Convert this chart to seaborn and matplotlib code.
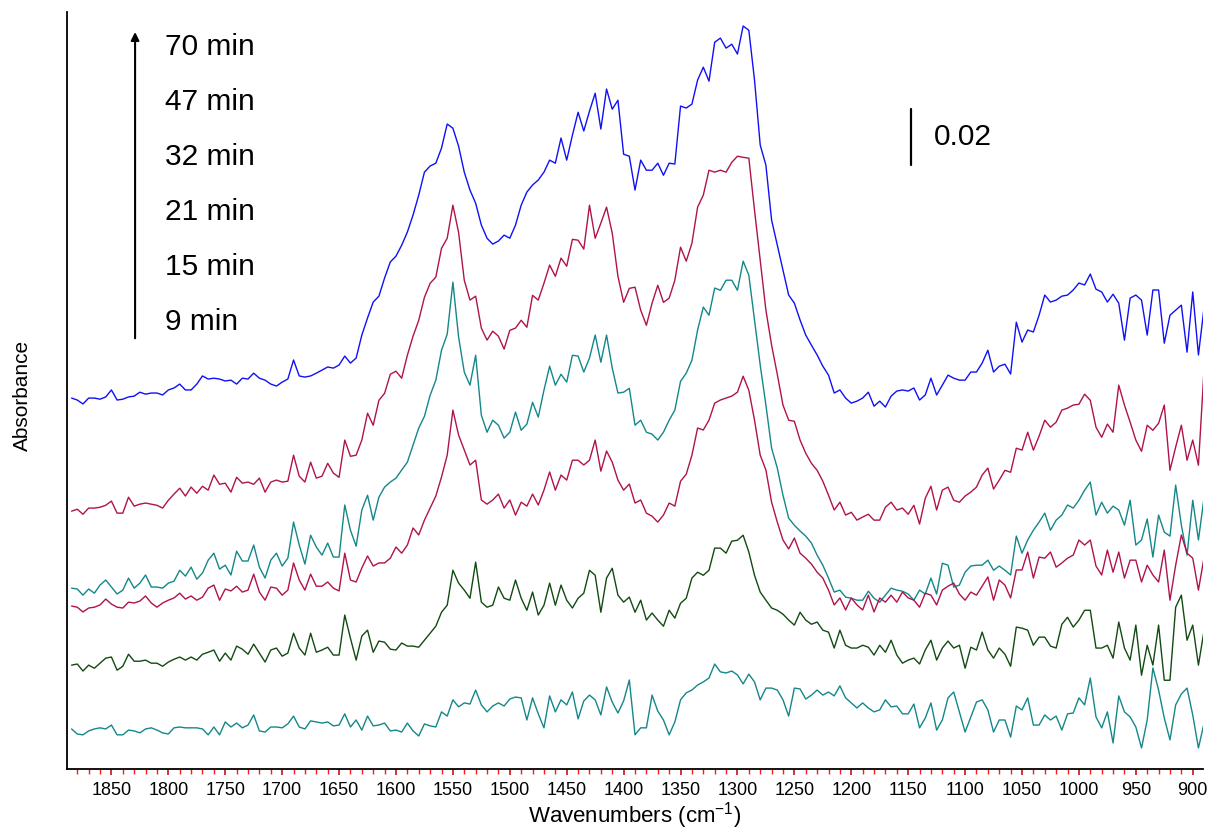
#!/usr/bin/env python3
# -*- coding: utf-8 -*-
"""
FTIR spectra over time, offset stack (seaborn lineplot)
"""

import seaborn as sns
import matplotlib.pyplot as plt
import numpy as np
import pandas as pd

# wavenumber grid, cm-1 (every 5 cm-1, high -> low)
wavenumbers = np.arange(1885, 889, -5)

# absorbance of each spectrum in mAbs, relative to its own start value
a70 = [0, -0.7, -2.1, 0, 0, -0.4, 0.4, 2.9, -0.7, -0.4,
       0.4, 0.7, 2.1, 1.4, 1.8, 1.8, 1.1, 2.9, 3.6, 5.0,
       2.9, 2.9, 5.0, 7.9, 6.8, 7.1, 6.8, 6.1, 6.4, 5.0,
       7.1, 6.8, 8.9, 7.1, 6.4, 5.0, 4.3, 5.7, 6.8, 13.6,
       7.9, 7.5, 7.9, 8.9, 10.0, 11.1, 10.7, 11.8, 15.0, 12.5,
       14.3, 22.5, 28.6, 34.3, 36.4, 42.9, 48.6, 50.7, 54.6, 59.3,
       65.4, 72.5, 80.7, 82.9, 83.9, 89.3, 97.9, 96.4, 90.0, 80.7,
       74.3, 69.6, 61.8, 57.1, 55.0, 56.1, 58.2, 57.1, 61.8, 68.9,
       73.6, 76.1, 77.9, 80.7, 85.0, 83.9, 92.9, 85.0, 93.9, 102.1,
       95.4, 102.5, 108.9, 96.1, 110.4, 103.2, 106.4, 87.1, 86.4, 74.3,
       85.0, 81.4, 81.4, 83.9, 79.6, 83.9, 83.6, 104.3, 103.6, 105.0,
       113.6, 118.2, 113.2, 127.1, 128.6, 125.0, 126.4, 122.9, 132.9, 131.4,
       113.6, 90.4, 83.2, 63.6, 54.6, 45.7, 36.8, 33.9, 27.9, 22.5,
       18.9, 15.4, 11.4, 8.2, 1.8, 2.9, 0, -1.8, -1.1, 0,
       2.1, -2.9, -1.1, -3.2, 0.7, 2.5, 2.9, 2.5, 3.6, -0.7,
       1.1, 7.1, 1.1, 4.6, 8.2, 7.1, 6.4, 6.4, 9.3, 9.3,
       12.5, 17.1, 9.3, 11.4, 12.1, 8.6, 27.1, 20.0, 24.3, 23.6,
       29.6, 36.8, 34.3, 35.0, 36.4, 36.8, 38.6, 41.1, 40.4, 44.3,
       38.9, 37.9, 34.3, 37.1, 33.9, 20.7, 35.7, 36.8, 35.0, 22.5,
       38.6, 38.6, 19.6, 29.6, 31.4, 33.2, 16.4, 37.9, 15.4, 32.5]

a47 = [0, 0.7, -1.1, 1.1, 1.1, 1.4, 2.1, 3.6, -0.7, -0.7,
       5.0, 1.8, 2.5, 2.9, 2.5, 2.1, 1.1, 3.9, 6.1, 8.2,
       5.4, 8.6, 6.4, 8.9, 7.5, 12.9, 9.6, 10.0, 6.8, 12.1,
       10.0, 10.4, 9.6, 11.8, 6.8, 10.4, 11.1, 10.4, 10.7, 20.0,
       12.5, 10.4, 17.5, 11.8, 12.5, 17.1, 13.6, 12.1, 25.4, 19.6,
       20.0, 25.4, 35.0, 30.7, 39.6, 42.1, 48.9, 50.0, 47.5, 55.7,
       62.5, 68.2, 76.4, 81.4, 83.6, 93.9, 97.5, 109.3, 99.6, 82.5,
       75.4, 76.8, 65.4, 61.1, 64.3, 62.5, 57.9, 64.6, 65.4, 68.2,
       65.7, 77.1, 75.4, 81.4, 87.9, 83.9, 90.4, 87.5, 97.1, 96.8,
       93.6, 109.3, 97.5, 102.9, 108.6, 99.3, 83.9, 74.6, 79.6, 80.0,
       71.8, 66.4, 74.3, 80.7, 74.6, 76.1, 82.5, 94.3, 89.3, 95.7,
       108.6, 112.9, 121.8, 121.1, 121.8, 121.1, 124.6, 126.8, 126.4, 126.1,
       107.5, 89.6, 71.8, 59.3, 48.9, 37.9, 32.5, 32.1, 25.4, 20.7,
       17.1, 14.6, 10.7, 5.7, 0.4, 3.2, -1.4, -0.4, -3.2, -2.1,
       -1.1, -3.2, -3.2, 1.4, 3.2, 0.4, 1.1, -1.1, 2.1, -4.6,
       4.6, 8.9, 0.4, 7.5, 8.6, 3.9, 3.2, 5.4, 6.8, 8.6,
       12.9, 15.4, 7.9, 11.1, 14.6, 13.9, 22.5, 21.8, 28.2, 21.8,
       26.8, 32.5, 30.0, 31.8, 36.1, 36.8, 37.9, 38.2, 41.8, 39.6,
       30.0, 26.4, 31.1, 28.2, 45.0, 37.9, 31.8, 25.4, 21.4, 30.7,
       28.9, 31.4, 37.9, 14.6, 22.9, 30.7, 18.2, 25.4, 16.4, 51.1]

a32 = [0.7, 0.4, -1.8, 0.4, -1.1, 1.8, 3.6, 1.1, -1.4, 0,
       4.3, 0.7, 2.5, 5.4, 1.1, 1.1, 0.7, 2.5, 3.2, 7.1,
       5.0, 8.2, 3.9, 6.1, 10.7, 13.2, 7.5, 8.9, 5.4, 13.9,
       10.4, 10.4, 16.1, 8.2, 4.3, 10.7, 13.2, 8.6, 11.4, 24.3,
       16.1, 9.3, 19.6, 15.4, 12.5, 16.8, 11.8, 11.8, 30.4, 21.4,
       15.7, 28.6, 33.9, 25.0, 33.2, 36.8, 38.6, 40.0, 42.9, 45.7,
       51.8, 57.9, 62.1, 69.6, 75.0, 85.7, 91.4, 110.0, 90.4, 77.9,
       73.2, 83.9, 62.5, 56.4, 60.7, 58.9, 54.3, 56.4, 63.6, 57.1,
       59.3, 67.1, 61.8, 71.4, 80.0, 73.2, 77.1, 74.3, 83.9, 83.6,
       77.9, 82.9, 91.1, 81.4, 91.1, 79.3, 70.4, 70.7, 72.1, 58.9,
       60.7, 56.4, 55.7, 53.6, 56.4, 60.7, 64.3, 74.6, 77.5, 82.1,
       92.9, 101.1, 98.2, 107.9, 107.1, 110.7, 110.7, 107.1, 117.5, 112.5,
       96.4, 80.4, 66.1, 50.7, 43.6, 33.9, 25.7, 23.2, 21.1, 19.3,
       16.8, 12.5, 8.9, 4.3, -0.7, 0, -2.5, -2.9, -3.6, -3.6,
       -0.4, -2.9, -4.3, -1.8, 0.7, 0, -0.4, -1.4, -3.6, 0,
       -1.4, 4.3, -1.4, 9.6, 8.9, 1.1, 1.8, 6.4, 8.6, 8.9,
       8.9, 10.7, 7.1, 8.6, 7.1, 5.4, 19.3, 13.2, 17.9, 21.4,
       24.3, 27.5, 21.4, 25.0, 26.8, 30.4, 29.3, 32.1, 35.7, 38.6,
       26.8, 31.4, 27.5, 30.0, 28.6, 23.2, 32.1, 16.1, 17.9, 25.4,
       11.8, 26.8, 20.7, 19.3, 37.5, 23.2, 12.5, 32.1, 17.9, 33.2]

a21 = [0, -0.4, -2.1, -0.7, -0.4, 0.4, 2.5, 0.7, -0.4, -0.7,
       1.4, 1.1, 1.8, 3.6, 1.1, -0.4, 1.1, 2.1, 2.9, 4.6,
       2.5, 3.6, 2.1, 3.2, 6.4, 7.5, 2.1, 6.1, 5.4, 7.1,
       5.0, 5.7, 11.4, 5.0, 2.1, 6.8, 6.4, 3.9, 5.7, 15.4,
       9.3, 5.7, 11.4, 7.1, 7.1, 8.6, 6.4, 5.4, 18.9, 9.3,
       8.6, 13.6, 17.9, 14.3, 15.4, 15.4, 17.1, 21.1, 18.9, 21.8,
       27.9, 25.4, 30.7, 35.0, 39.3, 46.1, 53.9, 70.0, 61.1, 55.7,
       50.4, 52.1, 37.9, 36.4, 37.9, 40.0, 35.0, 37.9, 32.5, 37.1,
       35.7, 40.0, 36.1, 41.4, 47.9, 41.4, 46.8, 45.0, 52.1, 52.1,
       50.4, 52.1, 59.3, 48.2, 55.4, 51.4, 45.0, 41.4, 43.6, 36.8,
       37.9, 33.2, 32.1, 30.0, 32.5, 36.8, 35.7, 44.6, 47.1, 53.9,
       63.6, 62.9, 66.4, 72.5, 73.6, 74.3, 75.0, 76.4, 82.1, 77.1,
       66.4, 53.9, 48.6, 37.1, 30.0, 23.6, 20.4, 24.3, 18.9, 17.1,
       15.0, 12.1, 10.0, 5.7, 0.4, 2.9, -1.4, 2.9, 0.4, -1.4,
       3.9, -2.1, 2.9, 1.4, 3.9, 1.4, 5.0, 2.9, 2.1, -0.4,
       4.6, 3.9, 0.4, 5.7, 7.1, 8.2, 4.3, 2.1, 5.0, 3.9,
       7.1, 10.4, 2.1, 9.3, 7.5, 2.9, 12.9, 12.9, 19.3, 10.0,
       17.5, 17.1, 19.3, 13.9, 15.4, 17.1, 18.2, 23.6, 21.8, 23.6,
       14.3, 11.1, 20.0, 12.1, 19.3, 10.0, 16.4, 16.4, 8.6, 14.6,
       11.1, 8.6, 20.0, 2.1, 14.6, 25.4, 18.9, 17.1, 5.7, 17.5]

a15 = [0, 0.4, -2.1, 0, -1.1, 0.7, 2.5, 2.9, -1.8, -0.4,
       3.9, 1.4, 1.4, 1.8, 0.7, 0.7, -0.4, 1.1, 2.1, 2.9,
       1.8, 2.9, 1.8, 3.9, 4.6, 5.4, 1.4, 4.3, 1.8, 6.8,
       5.7, 3.9, 7.5, 4.3, 1.1, 5.4, 6.1, 3.2, 4.3, 11.4,
       6.1, 3.6, 11.4, 4.6, 5.4, 6.4, 3.6, 3.6, 17.9, 9.6,
       1.8, 10.4, 12.5, 4.6, 8.6, 8.2, 5.7, 5.4, 7.9, 6.8,
       6.8, 6.4, 8.9, 11.4, 13.9, 18.9, 21.4, 33.9, 29.3, 26.8,
       23.9, 36.8, 22.5, 20.7, 21.4, 27.9, 23.9, 23.2, 30.4, 23.9,
       19.6, 26.1, 17.9, 21.4, 29.3, 21.4, 28.6, 23.2, 20.4, 23.9,
       25.7, 33.9, 32.1, 18.9, 31.1, 34.6, 25.0, 22.5, 24.3, 18.9,
       23.2, 16.1, 18.6, 16.1, 13.9, 19.6, 16.8, 22.1, 23.9, 31.1,
       33.2, 32.1, 33.9, 41.8, 41.8, 40.0, 44.3, 44.6, 46.4, 40.4,
       32.1, 26.1, 23.2, 20.4, 19.6, 18.2, 16.1, 14.3, 18.9, 16.1,
       14.6, 15.4, 12.5, 11.8, 6.1, 12.5, 7.1, 6.1, 6.1, 7.1,
       6.4, 3.6, 7.1, 4.6, 8.9, 3.6, 0.7, 1.8, 2.5, 0.4,
       5.4, 8.9, 1.8, 6.1, 8.6, 6.1, 7.1, -1.1, 6.4, 5.4,
       11.8, 5.4, 2.5, 6.1, 3.9, -0.4, 13.6, 13.2, 12.5, 7.1,
       10.0, 10.0, 6.8, 6.1, 14.6, 17.1, 13.6, 16.1, 19.6, 19.6,
       6.1, 6.1, 7.1, 2.5, 15.4, 6.1, 1.8, 14.3, -3.6, 7.1,
       0, 14.3, -5.4, -5.4, 20.7, 25.0, 8.9, 14.3, 0, 12.5]

a9 = [0, -1.8, -2.1, -0.7, 0, 0.4, 0, 1.4, -2.1, -2.1,
      -0.4, -0.7, -1.4, 0, 0.4, -0.4, -1.4, -1.8, 0.4, 0.7,
      0.4, 0.4, 0.4, 0, -2.1, 0.7, -2.1, 2.5, 0.7, 2.1,
      0.4, 1.4, 5.0, -0.7, -1.1, 0.7, 0.7, 0.4, 1.8, 4.6,
      0.7, 0, 2.9, 2.5, 2.1, 2.5, 1.1, 1.4, 5.4, 0.7,
      3.2, -0.4, 4.6, 1.1, 1.4, 2.1, -0.7, -0.4, -1.1, 2.1,
      -0.7, -2.5, 1.8, 1.1, 0.7, 6.1, 4.6, 10.4, 7.9, 9.3,
      8.9, 13.9, 8.6, 6.1, 8.2, 9.3, 8.2, 10.7, 11.4, 11.1,
      3.2, 11.1, 5.4, 0.4, 11.8, 6.1, 10.4, 8.6, 13.2, 3.6,
      10.0, 12.1, 10.4, 5.0, 15.0, 9.6, 5.7, 10.0, 17.5, -2.1,
      0.4, 0.4, 12.1, 6.4, 3.2, -2.1, 2.5, 10.4, 12.9, 13.9,
      15.7, 16.8, 18.2, 23.2, 20.4, 20.0, 20.7, 19.3, 16.1, 19.6,
      16.8, 10.4, 14.6, 14.6, 13.9, 10.4, 4.6, 14.6, 14.3, 10.7,
      12.1, 13.9, 12.1, 13.2, 11.8, 15.4, 11.1, 9.3, 7.5, 9.3,
      7.5, 6.1, 6.8, 10.4, 7.9, 8.2, 5.4, 5.4, 8.9, 0.4,
      3.9, 9.3, -0.4, 3.2, 11.1, 13.2, 6.1, -1.1, 4.3, 9.6,
      10.4, 6.8, -1.1, 3.2, 3.2, -2.9, 8.2, 6.8, 11.1, 1.4,
      1.4, 5.0, 3.2, 4.6, -0.4, 5.4, 5.7, 11.1, 8.6, 18.2,
      4.3, 0.4, 6.1, -5.0, 11.8, 6.1, 4.3, 0.7, -6.8, 3.2,
      21.8, 13.9, 3.9, -3.9, 8.6, 12.5, 14.6, 5.0, -6.8, 2.1]

times = ["70 min", "47 min", "32 min", "21 min", "15 min", "9 min"]
spectra = [a70, a47, a32, a21, a15, a9]
# vertical stacking offsets, mAbs
offsets = [132.5, 92.1, 63.9, 58.2, 37.1, 14.3]
colors = ["#1010F5", "#B0124E", "#14878A", "#B0124E", "#124A12", "#14878A"]

# long-form table for seaborn
frames = []
for t, s, off in zip(times, spectra, offsets):
    frames.append(pd.DataFrame({"wavenumber": wavenumbers,
                                "absorbance": (np.array(s) + off) / 1000.0,
                                "time": t}))
df = pd.concat(frames, ignore_index=True)

sns.set_style("white")
plt.rcParams["font.family"] = ["Liberation Sans", "DejaVu Sans"]
plt.rcParams["mathtext.fontset"] = "custom"
plt.rcParams["mathtext.rm"] = "Liberation Sans"
plt.rcParams["mathtext.it"] = "Liberation Sans:italic"
plt.rcParams["text.color"] = "black"
plt.rcParams["axes.labelcolor"] = "black"
plt.rcParams["xtick.labelcolor"] = "black"

fig = plt.figure(figsize=(12.1, 8.3), dpi=100)
ax = fig.add_axes([0.0554, 0.0735, 0.9388, 0.912])

sns.lineplot(data=df, x="wavenumber", y="absorbance", hue="time",
             palette=dict(zip(times, colors)), hue_order=times,
             estimator=None, sort=False, legend=False, lw=1.0, ax=ax)

ax.set_xlim(1889, 891)
ax.set_ylim(0, 0.2704)

# axes look
for side in ["top", "right"]:
    ax.spines[side].set_visible(False)
for side in ["left", "bottom"]:
    ax.spines[side].set_color("black")
    ax.spines[side].set_linewidth(1.3)

ax.set_yticks([])
ax.set_xticks(np.arange(1850, 899, -50))
ax.set_xticks(np.arange(1880, 899, -10), minor=True)
ax.tick_params(axis="x", which="both", bottom=True, direction="out")
ax.tick_params(axis="x", which="major", length=4.5, width=1.1,
               color="#C00000", labelsize=13, labelcolor="black", pad=5)
ax.tick_params(axis="x", which="minor", length=3.5, width=1.0,
               color="#FF1A1A")

ax.set_xlabel(r"Wavenumbers (cm$^{\mathregular{-1}}$)", fontsize=16, labelpad=1)
ax.set_ylabel("Absorbance", fontsize=15)
ax.yaxis.set_label_coords(-0.031, 0.493)

# time labels with arrow
label_y = [0.9538, 0.881, 0.8085, 0.7358, 0.6631, 0.5905]
for t, yy in zip(times, label_y):
    ax.text(0.0863, yy, t, transform=ax.transAxes, va="center", ha="left",
            fontsize=21.5)
ax.annotate("", xy=(0.0599, 0.9736), xytext=(0.0599, 0.569),
            xycoords="axes fraction", textcoords="axes fraction",
            arrowprops=dict(arrowstyle="-|>", color="black", lw=1.5,
                            mutation_scale=12, shrinkA=0, shrinkB=0))

# scale bar: 0.02 absorbance
ax.plot([1147.6, 1147.6], [0.2157, 0.2357], color="black", lw=1.6)
ax.text(1127.4, 0.2257, "0.02", va="center", ha="left", fontsize=21.5)

fig.savefig("out.png", dpi=100)
plt.close(fig)
